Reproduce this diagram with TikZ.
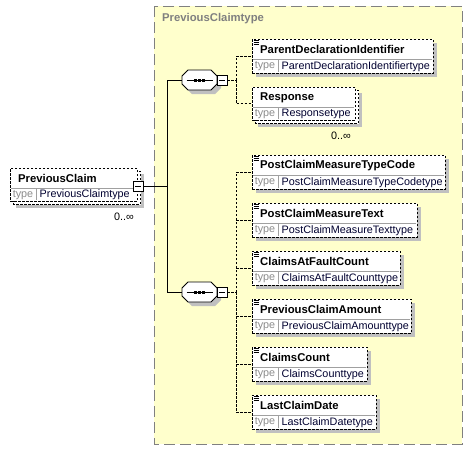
\documentclass[tikz,border=0pt]{standalone}
\usepackage{fontspec}
\setmainfont{Liberation Sans}
\definecolor{contfill}{RGB}{255,255,204}
\definecolor{contline}{RGB}{128,128,128}
\definecolor{shadowc}{RGB}{192,192,192}
\definecolor{divc}{RGB}{160,160,160}
\definecolor{typec}{RGB}{140,140,140}
\definecolor{txtc}{RGB}{0,0,48}
\tikzset{
  elbox/.style={draw, dash pattern=on 2.5pt off 1.5pt, line width=0.9pt, fill=white,
    anchor=north west, inner sep=0pt, outer sep=0pt, minimum height=34pt},
  nametxt/.style={anchor=west, inner sep=0pt, font=\fontsize{11.3}{13}\selectfont\bfseries, text=black},
  typelbl/.style={anchor=center, inner sep=0pt, font=\fontsize{10.8}{13}\selectfont, text=typec},
  typetxt/.style={anchor=west, inner sep=0pt, font=\fontsize{10.8}{13}\selectfont, text=txtc},
  multtxt/.style={anchor=east, inner sep=0pt, font=\fontsize{10.8}{13}\selectfont, text=black},
  minusbox/.style={draw, fill=white, line width=0.8pt, minimum width=10pt, minimum height=10pt,
    inner sep=0pt, outer sep=0pt, path picture={\draw[line width=0.8pt] ([xshift=2pt]path picture bounding box.west) -- ([xshift=-2pt]path picture bounding box.east);}},
  conn/.style={line width=0.9pt, draw=black},
  dconn/.style={line width=0.9pt, draw=black, dash pattern=on 2.5pt off 1.5pt},
}
% element box: id, left, top, width, title, type
\newcommand\xelem[6]{%
  \fill[shadowc] (#2+4,#3+4) rectangle (#2+#4+4,#3+38);
  \node[elbox, minimum width=#4 pt] (#1) at (#2,#3) {};
  \draw[divc, line width=0.8pt] (#2+1,#3+20) -- (#2+#4-1,#3+20);
  \draw[divc, line width=0.8pt] (#2+26,#3+20) -- (#2+26,#3+33);
  \node[nametxt] (#1-n) at (#2+8,#3+10.5) {#5};
  \node[typelbl] (#1-l) at (#2+13,#3+27.5) {type};
  \node[typetxt] (#1-t) at (#2+29.5,#3+27.5) {#6};
}
\newcommand\xicon[2]{%
  \foreach \k in {0,2,4} {\draw[line width=0.7pt] (#1+1.5,#2+1.5+\k) -- (#1+6.5,#2+1.5+\k);}
}
% multi-occurrence element: id, left, top, width, title, type
\newcommand\xmulti[6]{%
  \fill[shadowc] (#2+6,#3+6) rectangle (#2+#4+7,#3+40);
  \draw[white, fill=white] (#2+3,#3+3) rectangle (#2+#4+3,#3+36);
  \draw[dash pattern=on 2.5pt off 1.5pt, line width=0.9pt] (#2+3,#3+3) rectangle (#2+#4+3,#3+36);
  \node[elbox, minimum width=#4 pt, minimum height=33pt] (#1) at (#2,#3) {};
  \draw[divc, line width=0.8pt] (#2+1,#3+20) -- (#2+#4-1,#3+20);
  \draw[divc, line width=0.8pt] (#2+26,#3+20) -- (#2+26,#3+32);
  \node[nametxt] (#1-n) at (#2+8,#3+10.5) {#5};
  \node[typelbl] (#1-l) at (#2+13,#3+27) {type};
  \node[typetxt] (#1-t) at (#2+29.5,#3+27) {#6};
}
% octagon path helper: center x, center y
\newcommand\octpath[2]{(#1-11.5,#2-10) -- (#1+11.5,#2-10) -- (#1+17.5,#2-4) -- (#1+17.5,#2+4) -- (#1+11.5,#2+10) -- (#1-11.5,#2+10) -- (#1-17.5,#2+4) -- (#1-17.5,#2-4) -- cycle}
% sequence compositor: id, center x, center y
\newcommand\xseq[3]{%
  \fill[shadowc] \octpath{#2+4}{#3+4};
  \path[draw=black, fill=white, line width=0.9pt] \octpath{#2}{#3};
  \coordinate (#1-w) at (#2-17.5,#3);
  \coordinate (#1-e) at (#2+17.5,#3);
  \draw[line width=0.9pt] (#2-13,#3) -- (#2+13,#3);
  \foreach \k in {-4,0,4} {\fill (#2+\k-1.5,#3-1.5) rectangle (#2+\k+1.5,#3+1.5);}
  \node[minusbox] (#1-sq) at (#2+22.5,#3) {};
}
\begin{document}
\begin{tikzpicture}[x=1pt,y=-1pt]
\useasboundingbox (0,0) rectangle (473,451);
% container
\path[fill=contfill] (154,6) rectangle (462,444);
\draw[contline, line width=1pt, dash pattern=on 11pt off 5pt] (154,6) rectangle (462,444);
\node[anchor=west, inner sep=0pt, font=\fontsize{11.3}{13}\selectfont\bfseries, text=contline] (ctitle) at (162,19) {PreviousClaimtype};

% root element
\xmulti{root}{10}{168}{127}{PreviousClaim}{PreviousClaimtype}
\node[minusbox] (rootsq) at (138,186) {};
\node[multtxt] (rootm) at (134,217) {0..∞};

% sequences
\xseq{s1}{199.5}{80}
\xseq{s2}{199.5}{292}
\coordinate (trunk) at (167,186);
\draw[conn] (rootsq.east) -- (trunk);
\draw[conn] (trunk) |- (s1-w);
\draw[conn] (trunk) |- (s2-w);

% first sequence children
\xelem{pdi}{252}{39}{181}{ParentDeclarationIdentifier}{ParentDeclarationIdentifiertype}
\xicon{252}{39}
\xmulti{resp}{252}{87}{103}{Response}{Responsetype}
\node[multtxt] (respm) at (351,136) {0..∞};
\coordinate (b1) at (236,80);
\draw[dconn] (s1-sq.east) -- (b1);
\draw[dconn] (b1) |- (pdi.west);
\draw[dconn] (b1) |- (resp.west);

% second sequence children
\xelem{pcmtc}{252}{155}{193}{PostClaimMeasureTypeCode}{PostClaimMeasureTypeCodetype}
\xicon{252}{155}
\xelem{pcmt}{252}{203}{165}{PostClaimMeasureText}{PostClaimMeasureTexttype}
\xicon{252}{203}
\xelem{cafc}{252}{251}{148}{ClaimsAtFaultCount}{ClaimsAtFaultCounttype}
\xicon{252}{251}
\xelem{pca}{252}{299}{159}{PreviousClaimAmount}{PreviousClaimAmounttype}
\xicon{252}{299}
\xelem{cc}{252}{347}{115}{ClaimsCount}{ClaimsCounttype}
\xicon{252}{347}
\xelem{lcd}{252}{395}{124}{LastClaimDate}{LastClaimDatetype}
\xicon{252}{395}
\coordinate (b2) at (236,292);
\draw[dconn] (s2-sq.east) -- (b2);
\foreach \n in {pcmtc,pcmt,cafc,pca,cc,lcd} {\draw[dconn] (b2) |- (\n.west);}
\end{tikzpicture}
\end{document}
